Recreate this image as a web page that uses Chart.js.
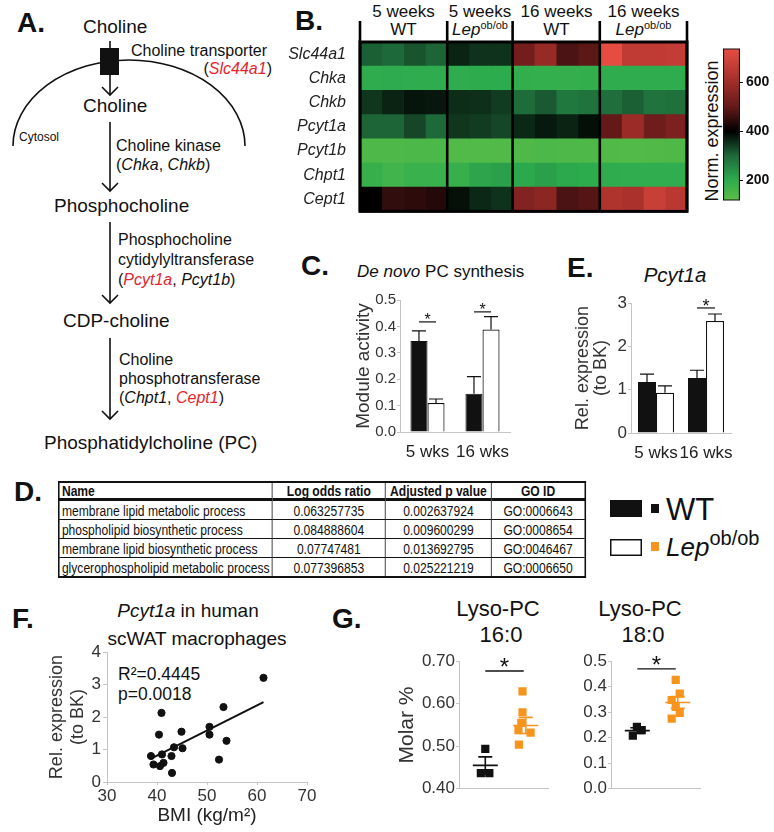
<!DOCTYPE html>
<html>
<head>
<meta charset="utf-8">
<script src="https://cdn.jsdelivr.net/npm/chart.js@4.4.1/dist/chart.umd.min.js"></script>
<style>
  html, body { margin: 0; padding: 0; background: #fff; }
  #page { position: relative; width: 774px; height: 832px; overflow: hidden; }
  #page canvas, #art { position: absolute; }
  #art { left: 0; top: 0; }
  #goTable {
    position: absolute; left: 58px; top: 481px; border-collapse: collapse; table-layout: fixed;
    font-family: 'Liberation Sans', Arial, sans-serif; font-size: 15.5px; color: #111;
    border: 2px solid #111; transform: scaleX(0.78); transform-origin: 0 0;
  }
  #goTable td, #goTable th {
    border: 1.5px solid #111; padding: 0 3px; height: 18px; line-height: 17px;
    text-align: center; white-space: nowrap; overflow: hidden;
  }
  #goTable th { font-weight: bold; border-bottom: 3px solid #111; height: 15px; line-height: 15px; }
  #goTable td:first-child, #goTable th:first-child { text-align: left; }
</style>
</head>
<body>
<div id="page">
<svg id="art" width="774" height="832" font-family="'Liberation Sans', Arial, sans-serif" fill="#111">
  <!-- panel letters -->
  <g font-weight="bold" font-size="28">
    <text x="17" y="32">A.</text>
    <text x="295" y="30">B.</text>
    <text x="301" y="275">C.</text>
    <text x="567" y="277">E.</text>
    <text x="14" y="501">D.</text>
    <text x="12" y="628">F.</text>
    <text x="332" y="628">G.</text>
  </g>

  <!-- A: pathway -->
  <g stroke="#111" stroke-width="1.6" fill="none">
    <path d="M13,146 A116,86 0 0 1 245,146"/>
    <line x1="110" y1="41" x2="110" y2="95"/>
    <polyline points="102,87 110,95 118,87"/>
    <line x1="110" y1="122" x2="110" y2="191"/>
    <polyline points="102,183 110,191 118,183"/>
    <line x1="110" y1="222" x2="110" y2="303"/>
    <polyline points="102,295 110,303 118,295"/>
    <line x1="110" y1="338" x2="110" y2="419"/>
    <polyline points="102,411 110,419 118,411"/>
  </g>
  <rect x="100" y="48" width="19" height="27" fill="#111"/>
  <g font-size="19">
    <text x="83" y="33">Choline</text>
    <text x="83" y="112">Choline</text>
    <text x="54" y="212">Phosphocholine</text>
    <text x="63" y="327">CDP-choline</text>
    <text x="44" y="449">Phosphatidylcholine (PC)</text>
  </g>
  <text x="19" y="141" font-size="12">Cytosol</text>
  <g font-size="16">
    <text x="131" y="56">Choline transporter</text>
    <text x="272" y="74" text-anchor="end">(<tspan font-style="italic" fill="#e3262d">Slc44a1</tspan>)</text>
    <text x="116" y="151">Choline kinase</text>
    <text x="116" y="170">(<tspan font-style="italic">Chka</tspan>, <tspan font-style="italic">Chkb</tspan>)</text>
    <text x="118" y="245">Phosphocholine</text>
    <text x="118" y="265">cytidylyltransferase</text>
    <text x="118" y="285">(<tspan font-style="italic" fill="#e3262d">Pcyt1a</tspan>, <tspan font-style="italic">Pcyt1b</tspan>)</text>
    <text x="119" y="365">Choline</text>
    <text x="119" y="384">phosphotransferase</text>
    <text x="119" y="403">(<tspan font-style="italic">Chpt1</tspan>, <tspan font-style="italic" fill="#e3262d">Cept1</tspan>)</text>
  </g>

  <!-- B: heatmap headers -->
  <g font-size="17" text-anchor="middle">
    <text x="403.5" y="17">5 weeks</text>
    <text x="403.5" y="35">WT</text>
    <text x="480" y="17">5 weeks</text>
    <text x="480" y="35"><tspan font-style="italic">Lep</tspan><tspan font-size="11" dy="-6">ob/ob</tspan></text>
    <text x="556.5" y="17">16 weeks</text>
    <text x="556.5" y="35">WT</text>
    <text x="643.5" y="17">16 weeks</text>
    <text x="643.5" y="35"><tspan font-style="italic">Lep</tspan><tspan font-size="11" dy="-6">ob/ob</tspan></text>
  </g>
  <text transform="translate(718,131) rotate(-90)" text-anchor="middle" font-size="18">Norm. expression</text>

  <!-- C / E titles -->
  <text x="357" y="277" font-size="17"><tspan font-style="italic">De novo</tspan> PC synthesis</text>
  <text x="675" y="282" text-anchor="middle" font-size="20.5" font-style="italic">Pcyt1a</text>

  <!-- legend -->
  <rect x="610" y="500" width="32" height="17" fill="#111"/>
  <rect x="651" y="504" width="8" height="9" fill="#111"/>
  <text x="666" y="520" font-size="31">WT</text>
  <rect x="610.75" y="539.75" width="30.5" height="15.5" fill="#fff" stroke="#111" stroke-width="1.5"/>
  <rect x="651" y="542" width="8" height="9" fill="#f7941d"/>
  <text x="666" y="556" font-size="26"><tspan font-style="italic">Lep</tspan><tspan font-size="20" dy="-11">ob/ob</tspan></text>

  <!-- F titles -->
  <text x="188" y="617" text-anchor="middle" font-size="19"><tspan font-style="italic">Pcyt1a</tspan> in human</text>
  <text x="197" y="645" text-anchor="middle" font-size="19">scWAT macrophages</text>
  <text x="118" y="680" font-size="17.5">R²=0.4445</text>
  <text x="118" y="700" font-size="17.5">p=0.0018</text>

  <!-- G titles -->
  <g font-size="22" text-anchor="middle">
    <text x="498" y="616">Lyso-PC</text>
    <text x="501" y="642">16:0</text>
    <text x="640" y="616">Lyso-PC</text>
    <text x="643" y="642">18:0</text>
  </g>
</svg>

<table id="goTable">
  <colgroup><col style="width:273px"><col style="width:145px"><col style="width:136px"><col style="width:120px"></colgroup>
  <thead><tr id="goHead"></tr></thead>
  <tbody id="goBody"></tbody>
</table>

<canvas id="heat" width="410" height="206" style="left:280px;top:21px"></canvas>
<canvas id="cbar" width="56" height="175" style="left:718px;top:37px"></canvas>
<canvas id="chartC" width="180" height="200" style="left:340px;top:290px"></canvas>
<canvas id="chartE" width="174" height="190" style="left:562px;top:292px"></canvas>
<canvas id="chartF" width="285" height="191" style="left:35px;top:640px"></canvas>
<canvas id="chartG1" width="170" height="150" style="left:385px;top:650px"></canvas>
<canvas id="chartG2" width="147" height="150" style="left:560px;top:650px"></canvas>
</div>

<script>
// ---------- data ----------
// B. heatmap (normalised expression, 15 samples: 4 WT5, 3 Lep5, 4 WT16, 4 Lep16)
const genes = ["Slc44a1", "Chka", "Chkb", "Pcyt1a", "Pcyt1b", "Chpt1", "Cept1"];
const heatGroups = ["5 weeks WT", "5 weeks Lep", "16 weeks WT", "16 weeks Lep"];
const heatGroupSizes = [4, 3, 4, 4];
const slc44a1Expr = [310, 300, 319, 305, 367, 352, 352, 525, 583, 475, 492, 735, 660, 660, 668];
const chkaExpr = [196, 202, 198, 198, 198, 200, 200, 192, 188, 186, 190, 198, 198, 198, 198];
const chkbExpr = [348, 367, 381, 378, 357, 355, 343, 295, 314, 277, 285, 292, 310, 285, 290];
const pcyt1aExpr = [305, 305, 333, 300, 348, 343, 333, 362, 376, 367, 386, 500, 592, 517, 542];
const pcyt1bExpr = [142, 142, 146, 146, 135, 135, 135, 142, 146, 142, 142, 138, 136, 138, 142];
const chpt1Expr = [182, 165, 178, 178, 182, 210, 218, 205, 218, 205, 200, 198, 195, 195, 195];
const cept1Expr = [400, 450, 445, 435, 385, 362, 352, 550, 567, 475, 485, 629, 619, 678, 649];
const colorbarRange = [117, 740];
const colorbarTicks = [200, 400, 600];

// C. de novo PC synthesis module activity
const ageLabels = ["5 wks", "16 wks"];
const pcActivityWT = [0.345, 0.145];
const pcActivityWTsem = [0.038, 0.065];
const pcActivityLep = [0.11, 0.388];
const pcActivityLepSem = [0.015, 0.049];
const pcActivitySig = [0.417, 0.455];

// E. Pcyt1a expression
const pcyt1aWT = [1.18, 1.27];
const pcyt1aWTsem = [0.18, 0.18];
const pcyt1aLep = [0.93, 2.59];
const pcyt1aLepSem = [0.16, 0.16];
const pcyt1aSig = [null, 2.89];

// D. GO table
const goNames = ["membrane lipid metabolic process", "phospholipid biosynthetic process",
  "membrane lipid biosynthetic process", "glycerophospholipid metabolic process"];
const goLogOdds = ["0.063257735", "0.084888604", "0.07747481", "0.077396853"];
const goAdjP = ["0.002637924", "0.009600299", "0.013692795", "0.025221219"];
const goIds = ["GO:0006643", "GO:0008654", "GO:0046467", "GO:0006650"];

// F. human scWAT macrophages
const bmi = [61.3, 53.3, 40.9, 50.5, 50.5, 44.9, 40.4, 53.9, 43.4, 45.1, 38.8, 41.0, 42.9, 52.4, 39.3, 40.6, 41.3, 43.0];
const pcyt1aHuman = [3.21, 2.31, 2.13, 1.70, 1.46, 1.55, 1.46, 1.27, 1.07, 1.04, 0.80, 0.85, 0.80, 0.69, 0.54, 0.49, 0.59, 0.28];
const fitBmi = [38.8, 61.3];
const fitExpr = [0.72, 2.46];

// G. Lyso-PC molar %
const lyso160WTx = [1.0, 0.89, 1.1];
const lyso160WT = [0.494, 0.437, 0.437];
const lyso160Lepx = [1.92, 1.92, 1.89, 2.12, 1.82, 1.83];
const lyso160Lep = [0.629, 0.580, 0.555, 0.532, 0.538, 0.504];
const lyso160Mean = [0.455, 0.549];
const lyso160Sem = [0.02, 0.019];
const lyso180WTx = [0.99, 0.89, 1.11];
const lyso180WT = [0.243, 0.208, 0.230];
const lyso180Lepx = [1.95, 2.05, 1.85, 1.95, 2.05, 1.85];
const lyso180Lep = [0.427, 0.373, 0.348, 0.321, 0.297, 0.275];
const lyso180Mean = [0.228, 0.338];
const lyso180Sem = [0.011, 0.023];

// ---------- styles ----------
const FONT = "'Liberation Sans', Arial, sans-serif";
const axisGrey = "#c4c4c4";
const orange = "#f7941d";
const colorStops = [
  { v: 117, c: [92, 190, 70] },
  { v: 200, c: [45, 172, 78] },
  { v: 300, c: [30, 105, 58] },
  { v: 400, c: [0, 0, 0] },
  { v: 500, c: [100, 25, 25] },
  { v: 600, c: [160, 45, 40] },
  { v: 740, c: [232, 78, 68] },
];

Chart.defaults.font.family = FONT;
Chart.defaults.color = "#333";
Chart.defaults.animation = false;
Chart.defaults.plugins.legend.display = false;
Chart.defaults.plugins.tooltip.enabled = false;

function exprColor(v) {
  let i = 0;
  while (i < colorStops.length - 2 && v > colorStops[i + 1].v) i++;
  const a = colorStops[i], b = colorStops[i + 1];
  const t = Math.min(1, Math.max(0, (v - a.v) / (b.v - a.v)));
  const c = a.c.map((x, k) => Math.round(x + (b.c[k] - x) * t));
  return `rgb(${c[0]},${c[1]},${c[2]})`;
}

// ---------- D. table ----------
document.getElementById("goHead").innerHTML =
  ["Name", "Log odds ratio", "Adjusted p value", "GO ID"].map((h) => `<th>${h}</th>`).join("");
document.getElementById("goBody").innerHTML = goNames
  .map((n, i) => `<tr><td>${n}</td><td>${goLogOdds[i]}</td><td>${goAdjP[i]}</td><td>${goIds[i]}</td></tr>`)
  .join("");

// ---------- B. heatmap ----------
const exprRows = [slc44a1Expr, chkaExpr, chkbExpr, pcyt1aExpr, pcyt1bExpr, chpt1Expr, cept1Expr];
const nSamples = slc44a1Expr.length;
const groupEdges = heatGroupSizes.reduce((acc, n) => acc.concat(acc[acc.length - 1] + n), [0]);

const heatFrame = {
  id: "heatFrame",
  afterDatasetsDraw(chart, args, opts) {
    const { ctx, chartArea: a, scales: { x } } = chart;
    ctx.save();
    ctx.strokeStyle = "#000";
    ctx.lineWidth = 3;
    ctx.strokeRect(a.left, a.top, a.right - a.left, a.bottom - a.top);
    ctx.lineWidth = 2.6;
    opts.edges.forEach((v) => {
      const px = x.getPixelForValue(v);
      ctx.beginPath();
      ctx.moveTo(px, a.top - opts.header);
      ctx.lineTo(px, a.bottom);
      ctx.stroke();
    });
    ctx.restore();
  },
};

new Chart(document.getElementById("heat"), {
  type: "bar",
  data: {
    labels: genes,
    datasets: Array.from({ length: nSamples }, (_, j) => ({
      label: "sample " + (j + 1),
      data: genes.map(() => 1),
      backgroundColor: exprRows.map((row) => exprColor(row[j])),
      borderWidth: 0,
      barPercentage: 1,
      categoryPercentage: 1,
    })),
  },
  options: {
    indexAxis: "y",
    responsive: false,
    layout: { padding: { top: 21, right: 3, bottom: 3 } },
    plugins: { heatFrame: { edges: groupEdges, header: 21 } },
    scales: {
      x: { stacked: true, display: false, min: 0, max: nSamples },
      y: {
        stacked: true,
        grid: { display: false },
        border: { display: false },
        ticks: { font: { size: 16, style: "italic" }, color: "#222", padding: 6 },
        afterFit: (s) => { s.width = 80; },
      },
    },
  },
  plugins: [heatFrame],
});

// colour bar
function gradientFill(c) {
  const chart = c.chart;
  if (!chart.chartArea) return null;
  const y = chart.scales.y;
  const g = chart.ctx.createLinearGradient(0, y.getPixelForValue(colorbarRange[0]), 0, y.getPixelForValue(colorbarRange[1]));
  colorStops.forEach((s) => {
    const t = (s.v - colorbarRange[0]) / (colorbarRange[1] - colorbarRange[0]);
    g.addColorStop(Math.min(1, Math.max(0, t)), `rgb(${s.c.join(",")})`);
  });
  return g;
}

new Chart(document.getElementById("cbar"), {
  type: "bar",
  data: {
    labels: [""],
    datasets: [{
      data: [colorbarRange],
      backgroundColor: gradientFill,
      borderColor: "#111",
      borderWidth: 1.5,
      borderSkipped: false,
      barPercentage: 1,
      categoryPercentage: 1,
    }],
  },
  options: {
    responsive: false,
    layout: { padding: { left: 5, top: 5, bottom: 5 } },
    scales: {
      x: { display: false },
      y: {
        position: "right",
        min: colorbarRange[0],
        max: colorbarRange[1],
        afterBuildTicks: (s) => { s.ticks = colorbarTicks.map((v) => ({ value: v })); },
        ticks: { font: { size: 14, weight: "bold" }, color: "#111", padding: 3 },
        grid: { drawOnChartArea: false, tickLength: 3, color: "#111" },
        border: { display: false },
        afterFit: (s) => { s.width = 34; },
      },
    },
  },
});

// ---------- C & E: bars with SEM ----------
const barExtras = {
  id: "barExtras",
  afterDatasetsDraw(chart, args, opts) {
    const { ctx, scales: { y } } = chart;
    ctx.save();
    ctx.strokeStyle = "#111";
    ctx.lineWidth = 1.2;
    chart.data.datasets.forEach((ds, di) => {
      chart.getDatasetMeta(di).data.forEach((bar, i) => {
        const top = y.getPixelForValue(ds.data[i] + ds.sem[i]);
        ctx.beginPath();
        ctx.moveTo(bar.x, bar.y);
        ctx.lineTo(bar.x, top);
        ctx.moveTo(bar.x - opts.cap, top);
        ctx.lineTo(bar.x + opts.cap, top);
        ctx.stroke();
      });
    });
    ctx.fillStyle = "#111";
    ctx.textAlign = "center";
    ctx.font = `${opts.star}px ${FONT}`;
    opts.sig.forEach((level, i) => {
      if (level == null) return;
      const x0 = chart.getDatasetMeta(0).data[i].x;
      const x1 = chart.getDatasetMeta(1).data[i].x;
      const py = y.getPixelForValue(level);
      ctx.beginPath();
      ctx.moveTo(x0, py);
      ctx.lineTo(x1, py);
      ctx.stroke();
      ctx.fillText("*", (x0 + x1) / 2, py + opts.star * 0.2);
    });
    ctx.restore();
  },
};

function barChart(id, wt, wtSem, lep, lepSem, sig, o) {
  return new Chart(document.getElementById(id), {
    type: "bar",
    data: {
      labels: ageLabels,
      datasets: [
        { label: "WT", data: wt, sem: wtSem, backgroundColor: "#111", borderColor: "#111", borderWidth: 1,
          categoryPercentage: o.cat, barPercentage: 1 },
        { label: "Lep ob/ob", data: lep, sem: lepSem, backgroundColor: "#fff", borderColor: "#111", borderWidth: 1.2,
          categoryPercentage: o.cat, barPercentage: 1 },
      ],
    },
    options: {
      responsive: false,
      layout: { padding: o.padding },
      plugins: { barExtras: { cap: 7, star: o.star, sig: sig } },
      scales: {
        x: {
          grid: { display: false },
          border: { color: axisGrey },
          ticks: { font: { size: 17 }, color: "#222", padding: 2, autoSkip: false, maxRotation: 0, minRotation: 0 },
          afterFit: (s) => { s.height = o.xh; },
        },
        y: {
          min: 0,
          max: o.max,
          ticks: { stepSize: o.step, callback: o.fmt, font: { size: o.tickSize }, color: "#333", padding: 1 },
          grid: { drawOnChartArea: false, tickLength: 3, color: axisGrey },
          border: { color: axisGrey },
          title: { display: true, text: o.title, font: { size: o.titleSize, lineHeight: o.titleLH }, color: "#333",
            padding: { top: 4, bottom: 0 } },
          afterFit: (s) => { s.width = o.yw; },
        },
      },
    },
    plugins: [barExtras],
  });
}

barChart("chartC", pcActivityWT, pcActivityWTsem, pcActivityLep, pcActivityLepSem, pcActivitySig, {
  cat: 0.62, padding: { left: 8, top: 9, right: 10 }, star: 16, xh: 58, max: 0.5, step: 0.1,
  fmt: (v) => v.toFixed(1), tickSize: 15, title: "Module activity", titleSize: 19, titleLH: 1.2, yw: 52,
});

barChart("chartE", pcyt1aWT, pcyt1aWTsem, pcyt1aLep, pcyt1aLepSem, pcyt1aSig, {
  cat: 0.72, padding: { left: 8, top: 9, right: 5 }, star: 18, xh: 49, max: 3, step: 1,
  fmt: (v) => v, tickSize: 17, title: ["Rel. expression", "(to BK)"], titleSize: 18, titleLH: 1, yw: 61,
});

// ---------- F. scatter ----------
new Chart(document.getElementById("chartF"), {
  type: "scatter",
  data: {
    datasets: [
      { data: bmi.map((b, i) => ({ x: b, y: pcyt1aHuman[i] })), backgroundColor: "#111", borderColor: "#111",
        pointRadius: 3.6 },
      { data: fitBmi.map((b, i) => ({ x: b, y: fitExpr[i] })), showLine: true, borderColor: "#111",
        borderWidth: 2, pointRadius: 0 },
    ],
  },
  options: {
    responsive: false,
    layout: { padding: { left: 7.6, top: 10, right: 13 } },
    scales: {
      x: {
        min: 30, max: 70,
        ticks: { stepSize: 10, font: { size: 17 }, color: "#333", padding: 1 },
        grid: { drawOnChartArea: false, tickLength: 3, color: axisGrey },
        border: { color: axisGrey },
        title: { display: true, text: "BMI (kg/m²)", font: { size: 19 }, color: "#222", padding: { top: 0, bottom: 4 } },
        afterFit: (s) => { s.height = 49; },
      },
      y: {
        min: 0, max: 4,
        ticks: { stepSize: 1, font: { size: 17 }, color: "#333", padding: 2 },
        grid: { drawOnChartArea: false, tickLength: 4, color: axisGrey },
        border: { color: axisGrey },
        title: { display: true, text: ["Rel. expression", "(to BK)"], font: { size: 18, lineHeight: 1.15 },
          color: "#333", padding: { top: 4, bottom: 0 } },
        afterFit: (s) => { s.width = 64.4; },
      },
    },
  },
});

// ---------- G. dot plots ----------
const dotStats = {
  id: "dotStats",
  afterDatasetsDraw(chart, args, opts) {
    const { ctx, scales: { x, y } } = chart;
    ctx.save();
    ctx.lineWidth = 1.6;
    opts.groups.forEach((g) => {
      const cx = x.getPixelForValue(g.x);
      const m = y.getPixelForValue(g.mean);
      const lo = y.getPixelForValue(g.mean - g.sem);
      const hi = y.getPixelForValue(g.mean + g.sem);
      ctx.strokeStyle = g.color;
      ctx.beginPath();
      ctx.moveTo(cx - 12.5, m); ctx.lineTo(cx + 12.5, m);
      ctx.moveTo(cx, lo); ctx.lineTo(cx, hi);
      ctx.moveTo(cx - 7, lo); ctx.lineTo(cx + 7, lo);
      ctx.moveTo(cx - 7, hi); ctx.lineTo(cx + 7, hi);
      ctx.stroke();
    });
    const s = opts.sig;
    const x0 = x.getPixelForValue(s.x0), x1 = x.getPixelForValue(s.x1), py = y.getPixelForValue(s.y);
    ctx.strokeStyle = "#111";
    ctx.lineWidth = 1.4;
    ctx.beginPath(); ctx.moveTo(x0, py); ctx.lineTo(x1, py); ctx.stroke();
    ctx.fillStyle = "#111";
    ctx.textAlign = "center";
    ctx.font = `24px ${FONT}`;
    ctx.fillText("*", (x0 + x1) / 2, py + 4.5);
    ctx.restore();
  },
};

function dotChart(id, wtx, wt, lepx, lep, mean, sem, o) {
  return new Chart(document.getElementById(id), {
    type: "scatter",
    data: {
      datasets: [
        { data: wtx.map((x, i) => ({ x, y: wt[i] })), pointStyle: "rect", pointRadius: 5.8,
          backgroundColor: "#111", borderColor: "#111", borderWidth: 0 },
        { data: lepx.map((x, i) => ({ x, y: lep[i] })), pointStyle: "rect", pointRadius: 5.8,
          backgroundColor: orange, borderColor: orange, borderWidth: 0 },
      ],
    },
    options: {
      responsive: false,
      layout: { padding: o.padding },
      plugins: {
        dotStats: {
          groups: [
            { x: 1, mean: mean[0], sem: sem[0], color: "#111" },
            { x: 2, mean: mean[1], sem: sem[1], color: orange },
          ],
          sig: { x0: 1, x1: 1.95, y: o.sig },
        },
      },
      scales: {
        x: {
          min: 0.35, max: 2.55,
          ticks: { display: false },
          grid: { display: false },
          border: { color: axisGrey },
          afterFit: (s) => { s.height = 8; },
        },
        y: {
          min: o.min, max: o.max,
          ticks: { stepSize: 0.1, callback: (v) => v.toFixed(o.dec), font: { size: 17 }, color: "#333", padding: 1 },
          grid: { drawOnChartArea: false, tickLength: 3, color: axisGrey },
          border: { color: axisGrey },
          title: { display: !!o.title, text: o.title, font: { size: 21 }, color: "#333", padding: { top: 4, bottom: 0 } },
          afterFit: (s) => { s.width = o.yw; },
        },
      },
    },
    plugins: [dotStats],
  });
}

dotChart("chartG1", lyso160WTx, lyso160WT, lyso160Lepx, lyso160Lep, lyso160Mean, lyso160Sem, {
  padding: { left: 5.4, top: 9, right: 7 }, min: 0.4, max: 0.7, dec: 2, sig: 0.677, title: "Molar %", yw: 68.6,
});
dotChart("chartG2", lyso180WTx, lyso180WT, lyso180Lepx, lyso180Lep, lyso180Mean, lyso180Sem, {
  padding: { left: 0, top: 9, right: 7 }, min: 0, max: 0.5, dec: 1, sig: 0.47, title: "", yw: 51,
});
</script>
</body>
</html>
